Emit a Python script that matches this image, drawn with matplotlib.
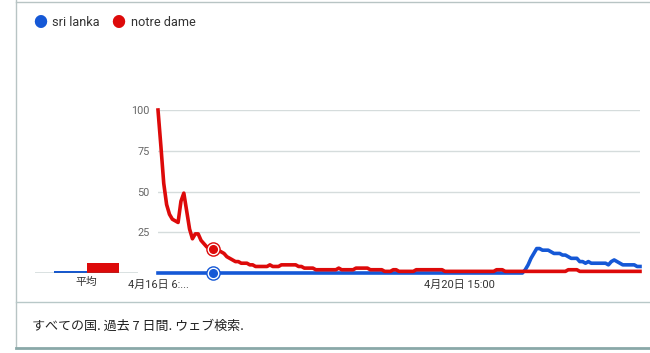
import numpy as np
import matplotlib
matplotlib.use('Agg')
import matplotlib.pyplot as plt

# データ (1時間ごと, 4月16日 6:00 から 7 日間)
notre_dame = [100, 78, 55, 42, 36, 33, 32, 31, 44, 49,
              38, 27, 21, 24, 24, 20, 18, 16, 15, 15,
              16, 14, 13, 12, 10, 9, 8, 7, 7, 6,
              6, 6, 5, 5, 4, 4, 4, 4, 4, 5,
              4, 4, 4, 5, 5, 5, 5, 5, 5, 4,
              4, 3, 3, 3, 3, 2, 2, 2, 2, 2,
              2, 2, 2, 3, 2, 2, 2, 2, 2, 3,
              3, 3, 3, 3, 2, 2, 2, 2, 2, 1,
              1, 1, 2, 2, 1, 1, 1, 1, 1, 1,
              2, 2, 2, 2, 2, 2, 2, 2, 2, 2,
              1, 1, 1, 1, 1, 1, 1, 1, 1, 1,
              1, 1, 1, 1, 1, 1, 1, 1, 2, 2,
              2, 1, 1, 1, 1, 1, 1, 1, 1, 1,
              1, 1, 1, 1, 1, 1, 1, 1, 1, 1,
              1, 1, 1, 2, 2, 2, 2, 1, 1, 1,
              1, 1, 1, 1, 1, 1, 1, 1, 1, 1,
              1, 1, 1, 1, 1, 1, 1, 1, 1]
sri_lanka = [0] * 128 + [2, 5, 9, 12, 15, 15, 14, 14, 14, 13,
                         12, 12, 12, 11, 11, 10, 9, 9, 9, 7,
                         7, 6, 7, 6, 6, 6, 6, 6, 6, 5,
                         7, 8, 7, 6, 5, 5, 5, 5, 5, 4, 4]
averages = [1, 6]  # sri lanka, notre dame
series_names = ['sri lanka', 'notre dame']
y_ticks = [25, 50, 75, 100]
x_tick_pos = [0, 105]
x_tick_labels = ['4月16日 6:...', '4月20日 15:00']
marker_idx = 19

BLUE = '#1558d6'
RED = '#dd0a0a'
GRID = '#d5dcdc'
JP = ['Roboto', 'Noto Sans CJK JP', 'DejaVu Sans']

plt.rcParams['font.family'] = JP

fig = plt.figure(figsize=(6.5, 3.53), dpi=100)
W, H = 650, 353


def fx(px):
    return px / W


def fy(py):
    return 1 - py / H


# カードの枠
fig.add_artist(plt.Line2D([fx(16), fx(16)], [fy(0), fy(347)], color='#b8c4c4', lw=1))
fig.add_artist(plt.Line2D([fx(16), 1], [fy(1.5), fy(1.5)], color='#b8c4c4', lw=1))
fig.add_artist(plt.Line2D([fx(16), 1], [fy(302), fy(302)], color='#b8c8c8', lw=1))
fig.add_artist(plt.Line2D([fx(16), 1], [fy(348), fy(348)], color='#8aa8a8', lw=2))

# 凡例
fig.text(fx(40), fy(23), '●', color=BLUE, fontsize=10, ha='center', va='center', family=JP)
fig.text(fx(52), fy(23), series_names[0], color='#333333', fontsize=9.2, va='center')
fig.text(fx(118), fy(23), '●', color=RED, fontsize=10, ha='center', va='center', family=JP)
fig.text(fx(131), fy(23), series_names[1], color='#333333', fontsize=9.2, va='center')

# メインの折れ線
ax = fig.add_axes([fx(158), fy(273), (640 - 158) / W, (273 - 110) / H])
x = np.arange(len(notre_dame))
ax.plot(np.arange(len(sri_lanka)), sri_lanka, color=BLUE, lw=2.6, clip_on=False, zorder=3)
ax.plot(x, notre_dame, color=RED, lw=2.6, clip_on=False, zorder=4)
ax.set_xlim(0, len(notre_dame) - 1)
ax.set_ylim(0, 100)
for t in y_ticks:
    ax.axhline(t, color=GRID, lw=1, zorder=1)
ax.set_yticks(y_ticks)
ax.set_yticklabels([str(t) for t in y_ticks], color='#666666', fontsize=7.8)
ax.tick_params(axis='y', length=0, pad=6)
ax.set_xticks(x_tick_pos)
ax.set_xticklabels(x_tick_labels, fontsize=7.9, color='#333333')
ax.tick_params(axis='x', length=0, pad=5)
for s in ax.spines.values():
    s.set_visible(False)

# 選択中の点
for vals, col in [(notre_dame, RED), (sri_lanka, BLUE)]:
    v = vals[marker_idx]
    ax.plot(marker_idx, v, 'o', ms=9.5, mfc='white', mec=col, mew=1, zorder=5, clip_on=False)
    ax.plot(marker_idx, v, 'o', ms=5.5, mfc=col, mec=col, zorder=6, clip_on=False)

# 平均の棒グラフ
ax2 = fig.add_axes([fx(35), fy(273), (138 - 35) / W, (273 - 110) / H])
ax2.bar([0, 1], averages, width=1, color=[BLUE, RED], align='edge', zorder=3)
ax2.set_xlim(-0.6, 2.6)
ax2.set_ylim(0, 100)
ax2.axhline(0, color='#446666', lw=1, zorder=4)
ax2.set_yticks([])
ax2.set_xticks([1])
ax2.set_xticklabels(['平均'], fontsize=7.8, color='#333333')
ax2.tick_params(axis='x', length=0, pad=3)
for s in ax2.spines.values():
    s.set_visible(False)
ax2.patch.set_alpha(0)

# フッター
fig.text(fx(32), fy(326), 'すべての国. 過去 7 日間. ウェブ検索.', fontsize=9.4, color='#222222',
         va='center', family=['Noto Sans CJK JP', 'DejaVu Sans'])

fig.savefig('out.png', dpi=100)
